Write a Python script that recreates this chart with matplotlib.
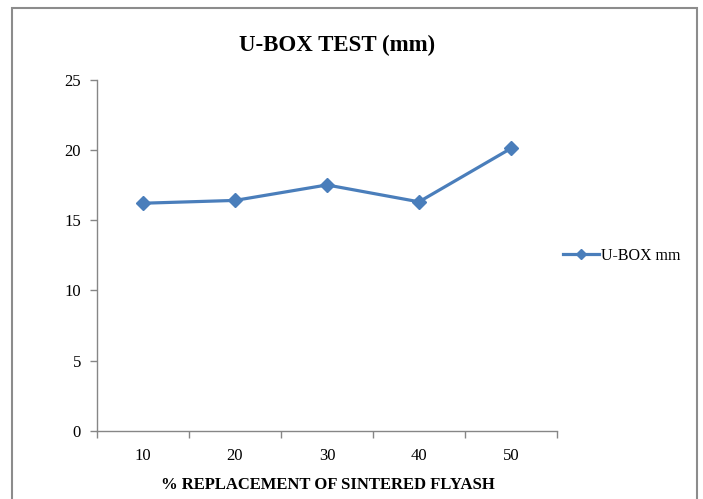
import matplotlib
matplotlib.use("Agg")
import matplotlib.pyplot as plt
from matplotlib.patches import Rectangle
from matplotlib.lines import Line2D

categories = ["10", "20", "30", "40", "50"]
ubox_mm = [16.2, 16.4, 17.5, 16.3, 20.1]
y_ticks = [0, 5, 10, 15, 20, 25]

plt.rcParams["font.family"] = ["Liberation Serif", "DejaVu Serif"]

W, H = 703, 499
fig = plt.figure(figsize=(W / 100, H / 100), dpi=100)
ax = fig.add_axes([97 / W, 1 - 431 / H, (557 - 97) / W, (431 - 79.5) / H])

line_color = "#4a7ebb"
axis_color = "#868686"

x = list(range(1, len(categories) + 1))
ax.plot(x, ubox_mm, color=line_color, lw=2.3, marker="D", markersize=7,
        markeredgecolor=line_color, markerfacecolor=line_color, label="U-BOX mm")

ax.set_xlim(0.5, len(categories) + 0.5)
ax.set_ylim(0, 25)

# category boundaries carry the tick marks, labels sit at the centres
ax.set_xticks([i + 0.5 for i in range(0, len(categories) + 1)])
ax.set_xticklabels([])
ax.set_xticks(x, minor=True)
ax.set_xticklabels(categories, minor=True)
ax.tick_params(axis="x", which="major", direction="out", length=5, width=1, color=axis_color)
ax.tick_params(axis="x", which="minor", length=0, pad=12.5, labelsize=12)

ax.set_yticks(y_ticks)
ax.set_yticklabels([str(v) for v in y_ticks])
ax.tick_params(axis="y", direction="out", length=5, width=1, color=axis_color, pad=6.5, labelsize=12)

for side in ("top", "right"):
    ax.spines[side].set_visible(False)
for side in ("left", "bottom"):
    ax.spines[side].set_color(axis_color)
    ax.spines[side].set_linewidth(1)

fig.text(337.5 / W, 1 - 45 / H, "U-BOX TEST (mm)", ha="center", va="center",
         fontsize=16.5, fontweight="bold")
fig.text(328 / W, 1 - 485 / H, "% REPLACEMENT OF SINTERED FLYASH", ha="center",
         va="center", fontsize=12, fontweight="bold")

# legend entry
legend_handle = Line2D([0], [0], color=line_color, lw=2.3, marker="D", markersize=5,
                       markerfacecolor=line_color, markeredgecolor=line_color)
fig.legend([legend_handle], ["U-BOX mm"], loc="center left",
           bbox_to_anchor=(557 / W, 1 - 256 / H), frameon=False, fontsize=11.5,
           handlelength=2.2, handletextpad=0.15, borderaxespad=0)

# chart area border
fig.patches.append(Rectangle((12 / W, -0.05), (697 - 12) / W, 1.05 - 8 / H,
                             transform=fig.transFigure, fill=False,
                             edgecolor="#8c8c8c", lw=1.5, clip_on=False))

fig.savefig("out.png", dpi=100)
